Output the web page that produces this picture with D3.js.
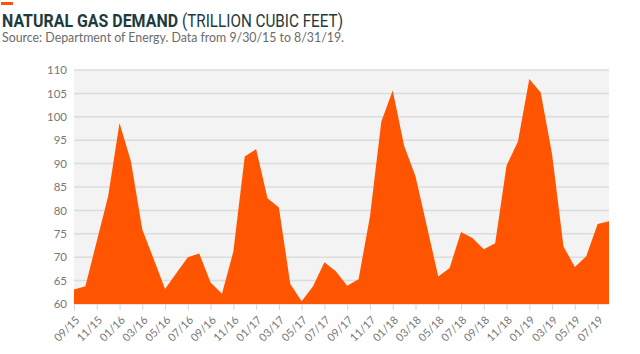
<!DOCTYPE html>
<html>
<head>
<meta charset="utf-8">
<title>Natural Gas Demand</title>
<script src="https://cdn.jsdelivr.net/npm/d3@7"></script>
<style>
  body { margin: 0; background: #fff; }
  svg { display: block; }
</style>
</head>
<body>
<script>
// monthly points, 9/15 .. 8/19
var months = ["09/15","10/15","11/15","12/15","01/16","02/16","03/16","04/16","05/16","06/16","07/16","08/16",
              "09/16","10/16","11/16","12/16","01/17","02/17","03/17","04/17","05/17","06/17","07/17","08/17",
              "09/17","10/17","11/17","12/17","01/18","02/18","03/18","04/18","05/18","06/18","07/18","08/18",
              "09/18","10/18","11/18","12/18","01/19","02/19","03/19","04/19","05/19","06/19","07/19","08/19"];
var demand = [63.1, 63.8, 73.4, 83.0, 98.7, 90.5, 75.9, 69.6, 63.2, 66.6, 70.0, 70.8,
              64.6, 62.2, 71.2, 91.5, 93.1, 82.6, 80.6, 64.3, 60.6, 63.8, 68.9, 67.0,
              63.9, 65.3, 78.7, 99.0, 105.6, 93.8, 87.3, 76.6, 65.9, 67.7, 75.4, 74.1,
              71.7, 73.0, 89.6, 94.7, 108.1, 105.2, 92.0, 72.3, 67.9, 70.2, 77.1, 77.7];
var yTicks = [60, 65, 70, 75, 80, 85, 90, 95, 100, 105, 110];
var xTickLabels = months.filter(function (m, i) { return i % 2 === 0; });

var width = 640, height = 354;
var margins = {top: 70, left: 74, right: 31, bottom: 50};

var svg = d3.select("body").append("svg")
    .attr("width", width)
    .attr("height", height);

// header
svg.append("rect")
    .attr("x", 1).attr("y", 2)
    .attr("width", 12).attr("height", 3)
    .attr("fill", "#ff5500");

// title in two pieces so each can be squeezed to the condensed width
svg.append("text")
    .attr("x", 2).attr("y", 26.5)
    .attr("font-family", "Roboto, sans-serif")
    .attr("font-size", 18)
    .attr("font-weight", "bold")
    .attr("fill", "#1d3b3e")
    .attr("textLength", 176)
    .attr("lengthAdjust", "spacingAndGlyphs")
    .text("NATURAL GAS DEMAND");

svg.append("text")
    .attr("x", 182).attr("y", 26.5)
    .attr("font-family", "Roboto, sans-serif")
    .attr("font-size", 18)
    .attr("fill", "#1d3b3e")
    .attr("textLength", 161)
    .attr("lengthAdjust", "spacingAndGlyphs")
    .text("(TRILLION CUBIC FEET)");

svg.append("text")
    .attr("x", 2).attr("y", 41.5)
    .attr("font-family", "Lato, sans-serif")
    .attr("font-size", 13)
    .attr("fill", "#6b6b6b")
    .attr("textLength", 342)
    .attr("lengthAdjust", "spacingAndGlyphs")
    .text("Source: Department of Energy. Data from 9/30/15 to 8/31/19.");

var x = d3.scalePoint()
    .domain(months)
    .range([margins.left, width - margins.right]);

var y = d3.scaleLinear()
    .domain([60, 110])
    .range([height - margins.bottom, margins.top]);

// plot background
svg.append("rect")
    .attr("x", margins.left)
    .attr("y", y(110))
    .attr("width", x.range()[1] - margins.left)
    .attr("height", y(60) - y(110))
    .attr("fill", "#f3f3f3");

// gridlines
svg.append("g").selectAll("line")
    .data(yTicks)
    .enter().append("line")
    .attr("x1", margins.left)
    .attr("x2", x.range()[1])
    .attr("y1", function (d) { return y(d); })
    .attr("y2", function (d) { return y(d); })
    .attr("stroke", "#dcdcdc")
    .attr("stroke-width", 1.5);

// area
var area = d3.area()
    .x(function (d, i) { return x(months[i]); })
    .y0(y(60))
    .y1(function (d) { return y(d); });

svg.append("path")
    .datum(demand)
    .attr("d", area)
    .attr("fill", "#ff5500");

// y axis labels
var yAxis = d3.axisLeft(y)
    .tickValues(yTicks)
    .tickSize(0)
    .tickPadding(7);

var yG = svg.append("g")
    .attr("transform", "translate(" + margins.left + ",0)")
    .call(yAxis);
yG.select(".domain").remove();
yG.selectAll("text")
    .attr("font-family", "Lato, sans-serif")
    .attr("font-size", 11.5)
    .attr("fill", "#777");

// x axis
var xAxis = d3.axisBottom(x)
    .tickValues(xTickLabels)
    .tickSize(6);

var xG = svg.append("g")
    .attr("transform", "translate(0," + y(60) + ")")
    .call(xAxis);
xG.select(".domain").remove();
xG.selectAll("line").attr("stroke", "#d6d6d6");
xG.selectAll("text")
    .attr("font-family", "Lato, sans-serif")
    .attr("font-size", 11)
    .attr("fill", "#777")
    .attr("text-anchor", "end")
    .attr("x", 0)
    .attr("y", 0)
    .attr("dy", "0.35em")
    .attr("transform", "translate(3,14) rotate(-45)");
</script>
</body>
</html>
